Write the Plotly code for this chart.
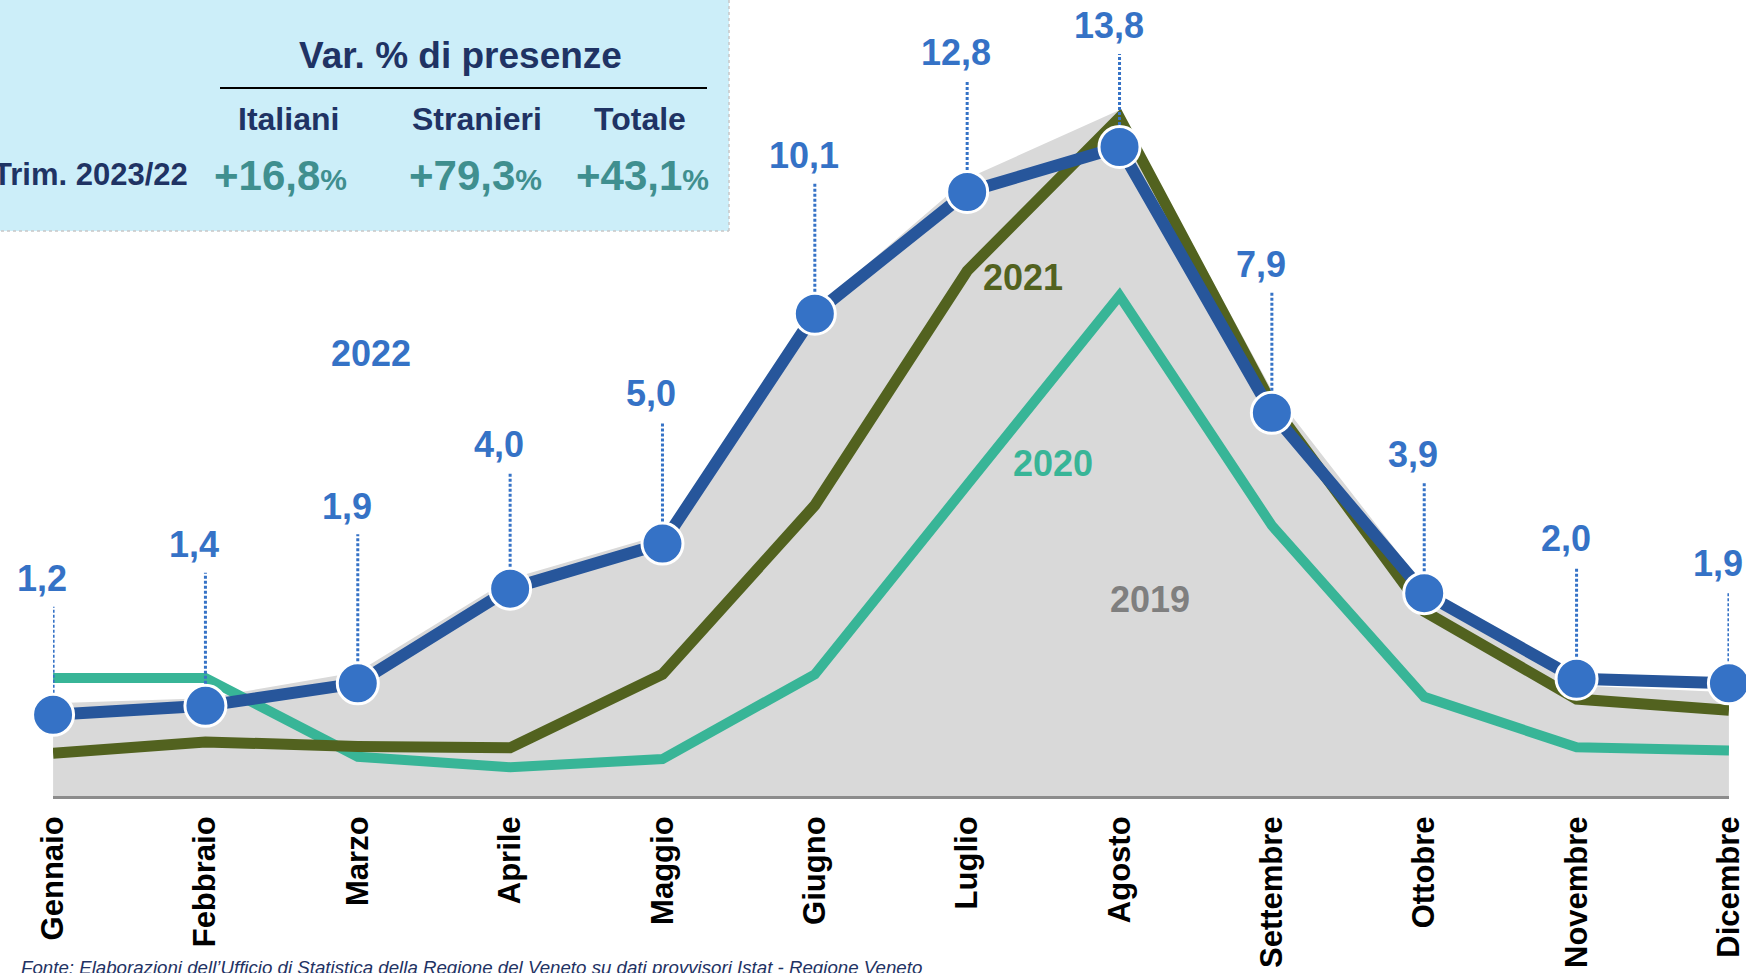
import plotly.graph_objects as go

# data
months = ["Gennaio", "Febbraio", "Marzo", "Aprile", "Maggio", "Giugno",
          "Luglio", "Agosto", "Settembre", "Ottobre", "Novembre", "Dicembre"]
presenze_2022 = [1.2, 1.4, 1.9, 4.0, 5.0, 10.1, 12.8, 13.8, 7.9, 3.9, 2.0, 1.9]
presenze_2021 = [0.35, 0.6, 0.5, 0.47, 2.1, 5.85, 11.05, 14.45, 8.1, 3.5, 1.55, 1.3]
presenze_2020 = [2.02, 2.02, 0.27, 0.04, 0.22, 2.1, 6.3, 10.5, 5.4, 1.6, 0.48, 0.41]
presenze_2019 = [1.46, 1.57, 2.15, 4.22, 5.2, 10.2, 13.1, 14.62, 8.4, 4.05, 1.85, 1.7]

var_title = "Var. % di presenze"
var_groups = ["Italiani", "Stranieri", "Totale"]
var_values = [16.8, 79.3, 43.1]
var_period = "Trim. 2023/22"
source_note = ("Fonte: Elaborazioni dell\u2019Ufficio di Statistica della Regione del Veneto "
               "su dati provvisori Istat - Regione Veneto")

# layout constants (pixels)
FIG_W, FIG_H = 1746, 973
L, R, T, B = 53, 17, 0, 177
PW, PH = FIG_W - L - R, FIG_H - T - B
Y_MIN, Y_MAX = -0.6, 17.06

FONT = "Liberation Sans, Arial, sans-serif"
NAVY = "#1F3364"
TEAL_TXT = "#3F8F8F"
BLUE_DARK = "#27569B"
BLUE = "#3572C6"
OLIVE = "#52621F"
TEAL = "#38B597"
GRAY_FILL = "#D9D9D9"
GRAY_TXT = "#7F7F7F"


def px(x):
    return (x - L) / PW


def py(y):
    return (T + PH - y) / PH


def fmt(v):
    return f"{v:.1f}".replace(".", ",")


xi = list(range(len(months)))
fig = go.Figure()

# 2019 as grey area down to the bottom of the axis
fig.add_trace(go.Scatter(
    x=xi + xi[::-1], y=presenze_2019 + [Y_MIN] * len(xi),
    fill="toself", fillcolor=GRAY_FILL, mode="lines", line=dict(width=0),
    hoverinfo="skip", showlegend=False))

fig.add_trace(go.Scatter(x=xi, y=presenze_2020, mode="lines",
                         line=dict(color=TEAL, width=10), showlegend=False,
                         cliponaxis=False))
fig.add_trace(go.Scatter(x=xi, y=presenze_2021, mode="lines",
                         line=dict(color=OLIVE, width=11), showlegend=False,
                         cliponaxis=False))
fig.add_trace(go.Scatter(x=xi, y=presenze_2022, mode="lines",
                         line=dict(color=BLUE_DARK, width=12), showlegend=False,
                         cliponaxis=False))
fig.add_trace(go.Scatter(x=xi, y=presenze_2022, mode="markers",
                         marker=dict(color=BLUE, size=41,
                                     line=dict(color="white", width=3)),
                         showlegend=False, cliponaxis=False))

# value labels with dotted leaders
label_lift = [136, 161, 177, 144, 150, 158, 140, 121, 148, 139, 140, 120]
annotations = []
shapes = []
for i, v in enumerate(presenze_2022):
    annotations.append(dict(
        x=i, y=v, xref="x", yref="y", text=f"<b>{fmt(v)}</b>", showarrow=False,
        xshift=-11, yshift=label_lift[i], xanchor="center", yanchor="middle",
        font=dict(family=FONT, size=36, color=BLUE)))
    shapes.append(dict(
        type="line", xref="x", yref="y", ysizemode="pixel", yanchor=v,
        x0=i, x1=i, y0=22, y1=label_lift[i] - 28,
        line=dict(color=BLUE, width=3, dash="3px,2px"), layer="above"))

# series names
series_names = [("2022", BLUE, 371, 353), ("2021", OLIVE, 1023, 277),
                ("2020", TEAL, 1053, 463), ("2019", GRAY_TXT, 1150, 599)]
for name, col, x, y in series_names:
    annotations.append(dict(
        x=px(x), y=py(y), xref="paper", yref="paper", text=f"<b>{name}</b>",
        showarrow=False, xanchor="center", yanchor="middle",
        font=dict(family=FONT, size=36, color=col)))

# info box
shapes.append(dict(type="rect", xref="paper", yref="paper",
                   x0=px(-5), x1=px(729), y0=py(231), y1=py(-5),
                   fillcolor="#CCEEF9", line=dict(width=0), layer="below"))
shapes.append(dict(type="line", xref="paper", yref="paper",
                   x0=px(729), x1=px(729), y0=py(231), y1=py(-5),
                   line=dict(color="#C8C8C8", width=1.5, dash="dot"), layer="below"))
shapes.append(dict(type="line", xref="paper", yref="paper",
                   x0=px(-5), x1=px(729), y0=py(231), y1=py(231),
                   line=dict(color="#C8C8C8", width=1.5, dash="dot"), layer="below"))
shapes.append(dict(type="line", xref="paper", yref="paper",
                   x0=px(220), x1=px(707), y0=py(88), y1=py(88),
                   line=dict(color="black", width=2)))

annotations.append(dict(
    x=px(460), y=py(56), xref="paper", yref="paper", text=f"<b>{var_title}</b>",
    showarrow=False, xanchor="center", yanchor="middle",
    font=dict(family=FONT, size=37, color=NAVY)))

col_x = [288, 477, 640]
num_x = [280, 475, 642]
for g, v, cx, nx in zip(var_groups, var_values, col_x, num_x):
    annotations.append(dict(
        x=px(cx), y=py(119), xref="paper", yref="paper", text=f"<b>{g}</b>",
        showarrow=False, xanchor="center", yanchor="middle",
        font=dict(family=FONT, size=32, color=NAVY)))
    annotations.append(dict(
        x=px(nx), y=py(176), xref="paper", yref="paper",
        text=f"<b>+{fmt(v)}<span style='font-size:30px'>%</span></b>",
        showarrow=False, xanchor="center", yanchor="middle",
        font=dict(family=FONT, size=42, color=TEAL_TXT)))

annotations.append(dict(
    x=px(190), y=py(175), xref="paper", yref="paper", text=f"<b>{var_period}</b>",
    showarrow=False, xanchor="right", yanchor="middle",
    font=dict(family=FONT, size=31, color=NAVY)))

annotations.append(dict(
    x=px(19), y=py(955), xref="paper", yref="paper", text=f"<i>{source_note}</i>",
    showarrow=False, xanchor="left", yanchor="top",
    font=dict(family=FONT, size=18.7, color=NAVY)))

fig.update_layout(
    width=FIG_W, height=FIG_H,
    margin=dict(l=L, r=R, t=T, b=B, pad=0, autoexpand=False),
    paper_bgcolor="white", plot_bgcolor="white",
    showlegend=False,
    xaxis=dict(range=[-0.0005, 11.0005], tickmode="array", tickvals=xi,
               ticktext=[f"<b>{m}</b>" for m in months], tickangle=-90,
               tickfont=dict(family=FONT, size=31, color="black"),
               ticks="outside", ticklen=5, tickcolor="rgba(0,0,0,0)",
               showline=True, linecolor="#8C8C8C", linewidth=3,
               showgrid=False, zeroline=False, fixedrange=True),
    yaxis=dict(range=[Y_MIN, Y_MAX], visible=False, showgrid=False,
               zeroline=False, fixedrange=True),
    annotations=annotations,
    shapes=shapes,
)

# page without the default body margin so the figure sits at the window corner
fig.write_html("out.html", config={"displayModeBar": False},
               post_script="document.body.style.margin='0px';")
